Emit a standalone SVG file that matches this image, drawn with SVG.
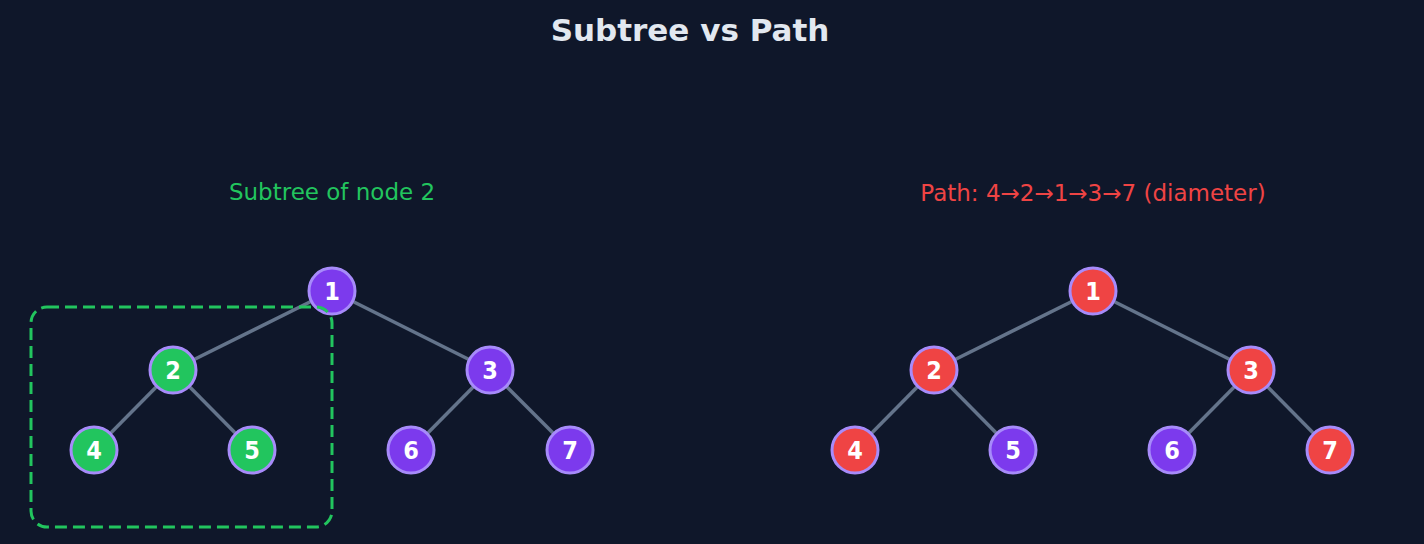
<svg xmlns="http://www.w3.org/2000/svg" width="1424" height="544" viewBox="0 0 1424 544">
<style>
.e{stroke:#64748b;stroke-width:3.5}
.n{stroke:#a78bfa;stroke-width:3}
.p{fill:#7c3aed}.g{fill:#22c55e}.r{fill:#ef4444}
.t{font-family:"DejaVu Sans Condensed","DejaVu Sans",sans-serif;font-weight:bold;font-size:25px;fill:#fff;text-anchor:middle}
.l{font-family:"DejaVu Sans",sans-serif;font-size:23px;text-anchor:middle}
</style>
<rect width="1424" height="544" fill="#0f172a"/>
<text x="690" y="41" font-family="DejaVu Sans,sans-serif" font-weight="bold" font-size="31" fill="#e2e8f0" text-anchor="middle">Subtree vs Path</text>
<text class="l" x="332" y="200" fill="#22c55e">Subtree of node 2</text>
<text class="l" x="1093" y="201" fill="#ef4444">Path: 4→2→1→3→7 (diameter)</text>
<g id="connectors">
<line class="e" x1="332" y1="291" x2="173" y2="370"/><line class="e" x1="332" y1="291" x2="490" y2="370"/>
<line class="e" x1="173" y1="370" x2="94" y2="450"/><line class="e" x1="173" y1="370" x2="252" y2="450"/>
<line class="e" x1="490" y1="370" x2="411" y2="450"/><line class="e" x1="490" y1="370" x2="570" y2="450"/>
<line class="e" x1="1093" y1="291" x2="934" y2="370"/><line class="e" x1="1093" y1="291" x2="1251" y2="370"/>
<line class="e" x1="934" y1="370" x2="855" y2="450"/><line class="e" x1="934" y1="370" x2="1013" y2="450"/>
<line class="e" x1="1251" y1="370" x2="1172" y2="450"/><line class="e" x1="1251" y1="370" x2="1330" y2="450"/>
</g>
<g id="L1"><circle class="n p" cx="332" cy="291" r="23"/><text class="t" x="332" y="300">1</text></g>
<g id="L2"><circle class="n g" cx="173" cy="370" r="23"/><text class="t" x="173" y="379">2</text></g>
<g id="L3"><circle class="n p" cx="490" cy="370" r="23"/><text class="t" x="490" y="379">3</text></g>
<g id="L4"><circle class="n g" cx="94" cy="450" r="23"/><text class="t" x="94" y="459">4</text></g>
<g id="L5"><circle class="n g" cx="252" cy="450" r="23"/><text class="t" x="252" y="459">5</text></g>
<g id="L6"><circle class="n p" cx="411" cy="450" r="23"/><text class="t" x="411" y="459">6</text></g>
<g id="L7"><circle class="n p" cx="570" cy="450" r="23"/><text class="t" x="570" y="459">7</text></g>
<g id="R1"><circle class="n r" cx="1093" cy="291" r="23"/><text class="t" x="1093" y="300">1</text></g>
<g id="R2"><circle class="n r" cx="934" cy="370" r="23"/><text class="t" x="934" y="379">2</text></g>
<g id="R3"><circle class="n r" cx="1251" cy="370" r="23"/><text class="t" x="1251" y="379">3</text></g>
<g id="R4"><circle class="n r" cx="855" cy="450" r="23"/><text class="t" x="855" y="459">4</text></g>
<g id="R5"><circle class="n p" cx="1013" cy="450" r="23"/><text class="t" x="1013" y="459">5</text></g>
<g id="R6"><circle class="n p" cx="1172" cy="450" r="23"/><text class="t" x="1172" y="459">6</text></g>
<g id="R7"><circle class="n r" cx="1330" cy="450" r="23"/><text class="t" x="1330" y="459">7</text></g>
<rect x="31" y="307" width="301" height="220" rx="16" fill="none" stroke="#22c55e" stroke-width="3" stroke-dasharray="12,6"/>
</svg>
